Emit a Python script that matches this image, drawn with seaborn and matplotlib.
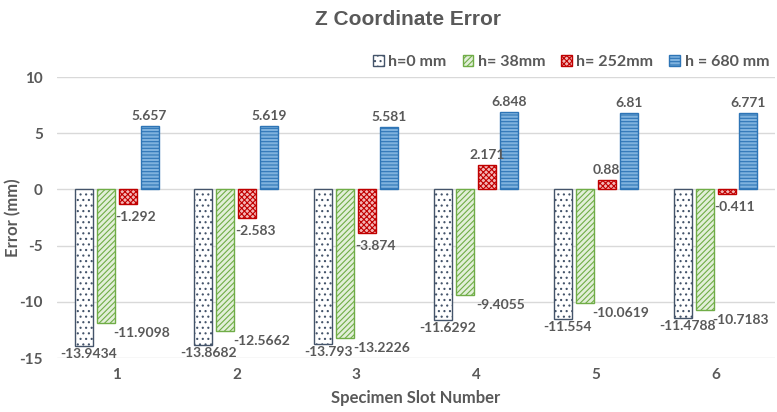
import matplotlib
matplotlib.use("Agg")
import matplotlib.pyplot as plt
import seaborn as sns
import pandas as pd
import numpy as np

slots = ["1", "2", "3", "4", "5", "6"]
series_names = ["h=0 mm", "h= 38mm", "h= 252mm", "h = 680 mm"]
h0 = [-13.9434, -13.8682, -13.793, -11.6292, -11.554, -11.4788]
h38 = [-11.9098, -12.5662, -13.2226, -9.4055, -10.0619, -10.7183]
h252 = [-1.292, -2.583, -3.874, 2.171, 0.88, -0.411]
h680 = [5.657, 5.619, 5.581, 6.848, 6.81, 6.771]
yticks = [10, 5, 0, -5, -10, -15]

series_values = [h0, h38, h252, h680]
df = pd.DataFrame({
    "slot": np.repeat([slots], 4, axis=0).ravel(),
    "series": np.repeat(series_names, len(slots)),
    "value": np.concatenate(series_values),
})

sns.set_theme(style="white")
plt.rcParams["font.family"] = ["Lato", "DejaVu Sans"]
plt.rcParams["hatch.linewidth"] = 0.8

text_color = "#595959"
faces = ["#FFFFFF", "#E2EFD9", "#F4B6B6", "#7FB2DE"]
edges = ["#44546A", "#70AD47", "#C00000", "#2E75B6"]
hatches = ["...", "//////", "xxxxxx", "-----"]

fig = plt.figure(figsize=(7.77, 4.12), dpi=100)
ax = fig.add_axes([0.073, 0.131, 0.925, 0.682])

sns.barplot(data=df, x="slot", y="value", hue="series", order=slots,
            hue_order=series_names, width=0.733, gap=0.18,
            palette=faces, ax=ax, legend=True, errorbar=None, saturation=1)

# pixel offsets (dx, dy) of the value labels for negative bars
neg_offsets = [(5, -8), (36, -10), (8, -13), (0, -10)]
for k, cont in enumerate(ax.containers):
    for bar, val in zip(cont, series_values[k]):
        bar.set_facecolor(faces[k])
        bar.set_edgecolor(edges[k])
        bar.set_hatch(hatches[k])
        bar.set_linewidth(1.0)
        cx = bar.get_x() + bar.get_width() / 2
        if val < 0:
            dx, dy = neg_offsets[k]
        else:
            dx, dy = 0, 10
        ax.annotate(str(val), (cx, val), xytext=(dx, dy),
                    textcoords="offset pixels", ha="center", va="center",
                    fontsize=10, fontweight="bold", color=text_color)

ax.set_ylim(-15, 10)
ax.set_yticks(yticks)
ax.set_yticklabels([str(t) for t in yticks])
ax.yaxis.grid(True, color="#D9D9D9", linewidth=1)
ax.set_axisbelow(True)
for s in ax.spines.values():
    s.set_visible(False)
ax.tick_params(axis="y", length=0, labelsize=11, labelcolor=text_color, pad=10)
ax.tick_params(axis="x", length=0, labelsize=11, labelcolor=text_color, pad=7)
for lab in ax.get_xticklabels() + ax.get_yticklabels():
    lab.set_fontweight("bold")
ax.set_xlim(-0.5, 5.5)

ax.set_xlabel("Specimen Slot Number", fontsize=12, fontweight="bold",
              color=text_color, labelpad=6)
ax.set_ylabel("Error (mm)", fontsize=12, fontweight="bold", color=text_color)
ax.yaxis.set_label_coords(-0.049, 0.5)

handles, labels = ax.get_legend_handles_labels()
for h, f, e, ht in zip(handles, faces, edges, hatches):
    h.set_facecolor(f)
    h.set_edgecolor(e)
    h.set_hatch(ht)
leg = ax.legend(handles, labels, ncol=4, frameon=False, loc="center right",
                bbox_to_anchor=(1.0, 1.053), handlelength=0.65,
                handleheight=0.65, handletextpad=0.3, columnspacing=1.0,
                borderaxespad=0, prop={"weight": "bold", "size": 11.5})
for t in leg.get_texts():
    t.set_color(text_color)

fig.suptitle("Z Coordinate Error", x=0.525, y=0.975, fontsize=15,
             fontweight="bold", color=text_color,
             family=["Liberation Sans", "DejaVu Sans"])

fig.savefig("out.png", dpi=100)
